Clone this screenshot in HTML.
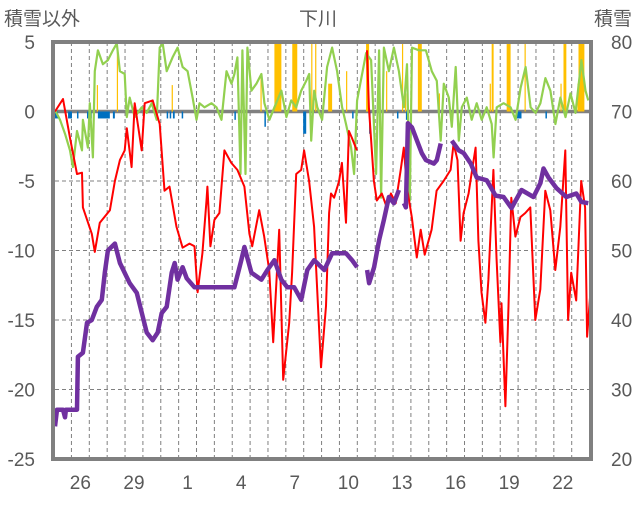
<!DOCTYPE html>
<html><head><meta charset="utf-8">
<style>
html,body{margin:0;padding:0;background:#fff;}
body{width:636px;height:501px;overflow:hidden;font-family:"Liberation Sans","Noto Sans CJK JP",sans-serif;}
svg text{font-family:"Liberation Sans","Noto Sans CJK JP",sans-serif;fill:#595959;}
</style></head>
<body>
<svg id="chart" width="636" height="501" viewBox="0 0 636 501" xmlns="http://www.w3.org/2000/svg">
<text x="4" y="25" font-size="19">積雪以外</text>
<text x="318" y="25" font-size="19" text-anchor="middle">下川</text>
<text x="632" y="25" font-size="19" text-anchor="end">積雪</text>
<g id="grid"></g>
<g id="bars"></g>
<g id="lines"></g>
<g id="axes"></g>
</svg>
<script>
// time in days since chart start
const dayLabels = ["26","29","1","4","7","10","13","16","19","22"];
const dayLabelIdx = [0,3,6,9,12,15,18,21,24,27];
const leftTicks = [5,0,-5,-10,-15,-20,-25];
const rightTicks = [80,70,60,50,40,30,20];

const redT = [0,0.45,0.84,1.23,1.51,1.56,2.06,2.23,2.51,3.07,3.35,3.63,3.90,4.02,4.29,4.46,4.85,5.02,5.47,5.86,6.13,6.41,6.80,7.14,7.53,7.81,7.98,8.25,8.48,8.53,8.70,8.92,9.20,9.48,9.87,10.21,10.60,10.88,11.04,11.43,11.71,11.99,12.21,12.55,12.77,13.11,13.27,13.50,13.78,13.94,14.22,14.50,14.89,15.17,15.34,15.45,15.62,15.90,16.06,16.29,16.45,16.62,16.90,null,17.46,17.57,17.85,18.01,18.29,18.57,18.80,19.07,19.35,19.52,19.69,19.97,20.25,20.47,20.69,21.08,21.36,21.75,22.14,22.31,22.53,22.70,22.87,23.15,23.31,23.54,23.70,23.87,24.09,24.26,24.54,24.71,24.93,24.99,25.21,25.38,25.54,25.77,26.05,26.32,26.60,26.88,27.16,27.44,27.72,28.00,28.28,28.56,28.72,28.89,29.17,29.45,29.67,29.78,29.95];
const redV = [0,0.9,-1.9,-4.5,-4.4,-6.9,-8.8,-10.1,-8,-7.1,-5,-3.5,-2.8,-1.2,-4,0.6,-2.8,0.6,0.8,-0.9,-5.7,-5.4,-8.3,-9.8,-9.5,-9.7,-13,-10.2,-6.4,-5.4,-9.7,-7.8,-7.3,-2.8,-3.7,-4.2,-5.4,-8.8,-9.7,-7.1,-9,-11.4,-16.6,-8.5,-19.3,-15.2,-11.6,-4.5,-4.2,-2.8,-5,-8.3,-18.4,-14,-7.3,-5.9,-6.2,-5,-3.7,-8,-1.4,-1.9,-2.8,null,4.4,0.3,-5,-6.4,-5.9,-6.9,-5.9,-6.6,-4.2,-2.6,-5.4,-7.6,-10.5,-8.5,-10.3,-8.5,-5.7,-5,-4.2,-2.3,-3.5,-9.3,-7.3,-5.9,-4.5,-2.6,-9.3,-13,-15.2,-12.1,-4.2,-10.5,-16.6,-13.8,-21.2,-14,-6.2,-9,-7.6,-7.3,-6.9,-15,-12.8,-5.7,-7.1,-11.4,-8.3,-2.8,-15,-11.6,-13.6,-5,-6.9,-16.2,-13.3];

const greenT = [0,0.28,0.56,0.84,1.0,1.23,1.51,1.56,1.84,1.95,2.12,2.23,2.4,2.68,2.96,3.24,3.46,3.63,3.9,4.02,4.18,4.46,4.85,5.13,5.41,5.69,5.86,6.03,6.25,6.58,6.86,7.14,7.42,7.7,7.92,8.09,8.37,8.76,9.04,9.32,9.6,9.88,10.04,10.21,10.38,10.49,10.66,10.77,10.99,11.27,11.55,11.72,12.0,12.28,12.67,12.95,13.22,13.5,13.78,14.06,14.23,14.34,14.51,14.68,14.95,15.23,15.51,15.79,16.07,16.29,16.57,16.74,16.91,17.41,17.69,17.97,18.14,18.25,18.41,18.69,18.97,19.25,19.53,19.7,19.86,19.98,20.37,20.76,21.09,21.37,21.59,21.76,22.04,22.21,22.43,22.6,22.77,23.05,23.32,23.6,23.88,24.16,24.44,24.55,24.72,25.11,25.5,25.78,26.06,26.34,26.62,26.9,27.17,27.45,27.73,28.01,28.29,28.57,28.85,29.13,29.46,29.69,29.85];
const greenV = [0.1,-0.6,-1.6,-2.8,-4,-1.4,-2.8,-0.6,-2.6,0.6,-3.3,2.9,4.4,3.4,3.7,4.4,4.9,2.9,2.7,-0.4,1,-0.4,0.3,-0.1,0.6,-0.6,4.6,4.9,2.9,3.9,4.6,3.2,2.9,1.0,-0.6,0.6,0.3,0.6,0.3,-0.6,2.9,2,2.7,3.9,-4.5,4.4,-4.5,4.6,1.5,2,2.7,0.6,-0.6,0.3,1.5,-0.4,0.8,0.3,1.5,2.2,2.7,-2.1,1.5,0.3,-0.6,3.2,4.6,2.9,0.3,-0.9,-2.6,-4.5,0.8,4.2,3.7,-4.5,4.4,-6.2,4.6,2.9,4.6,2.9,0.3,3.4,-6.4,4.6,4.4,4.4,2.9,2.2,-2.1,2,1,-1.1,3.2,-2.1,0.3,1,-0.6,0.6,-0.6,0.3,-0.9,-3.3,0.3,0.6,0.3,-0.6,1.7,3.2,0.3,-0.1,0.6,2.4,1.5,-0.9,1,-0.4,1.3,-0.1,3.7,1.5,0.8];

const snowT = [0,0.11,0.45,0.56,0.61,1.23,1.28,1.56,1.79,2.06,2.34,2.62,2.79,2.96,3.35,3.63,4.18,4.58,5.13,5.47,5.75,5.97,6.25,6.53,6.7,6.86,7.14,7.37,7.81,9.04,10.04,10.43,10.6,10.99,11.55,11.89,12.28,12.67,13.0,13.39,13.78,14.12,14.51,15.07,15.51,16.29,16.63,16.91,null,17.47,17.58,17.86,18.14,18.41,18.69,18.97,19.25,null,19.53,19.64,19.75,19.98,20.26,20.53,20.76,21.2,21.37,21.59,null,22.21,22.6,22.88,23.27,23.6,24.16,24.66,25.11,25.55,26.11,26.78,27.17,27.34,27.62,28.06,28.62,29.18,29.46,29.85];
const snowV = [24.7,27.1,27.1,26,27.1,27.1,34.7,35.3,39.6,40,41.9,42.9,46.8,50,51,48.2,45.3,43.9,38.2,37.1,38.2,41,41.9,46.8,48.2,45.8,47.6,46,44.7,44.7,44.7,48.6,50.5,46.8,45.8,47.2,48.6,45.8,44.7,44.7,42.9,47.2,48.6,47.2,49.6,49.6,48.6,47.6,null,47.2,45.3,47.6,51.5,54.4,57.7,56.8,58.7,null,56.8,56.2,68.3,67.7,65.8,64,63,62.5,63,65.4,null,65.8,64.4,64,62.5,60.5,60.1,57.9,57.7,56.1,58.7,57.7,59.7,61.8,60.5,59,57.7,58.2,57,56.8];

const snowfallStart = [2.34,3.46,6.53,11.5,12.28,13.28,14.34,14.56,15.29,15.34,16.29,17.41,18.53,19.42,19.59,20.31,21.48,24.33,24.44,25.28,26.28,28.29,28.46,29.24,29.3];
const snowfallEnd   = [2.38,3.52,6.57,11.54,12.67,13.56,14.39,14.61,15.33,15.51,16.34,17.58,18.57,19.47,19.63,20.53,21.52,24.37,24.55,25.5,26.33,28.33,28.62,29.28,29.63];
const snowfallV     = [1.9,4.3,1.9,2.7,5,5,5,5,2,2,2.9,5,2.9,5,1.3,5,1.3,2,5,5,5,2,5,2,5];

const blueStart = [0,0.73,1.23,1.79,2.4,3.24,6.25,6.42,6.6,7.09,10.04,11.72,13.89,16.63,17.58,18.3,19.14,19.64,25.83,27.45];
const blueEnd   = [0.17,0.95,1.28,2.06,3.07,3.35,6.3,6.47,6.7,7.14,10.08,11.76,14.06,16.67,17.62,18.34,19.18,19.81,26.11,27.49];
const blueV     = [-0.5,-0.5,-0.5,-0.5,-0.5,-0.5,-0.5,-0.5,-0.5,-0.5,-0.6,-1.1,-1.6,-0.5,-1.6,-0.5,-0.5,-0.6,-0.5,-0.5];

const X0=55, X1=591, Y5=42, Y25=459, DAYS=30.0, FIRST=0.92;
function xs(t){return X0+(t/DAYS)*(X1-X0);}
function yl(v){return Y5+(5-v)/30*(Y25-Y5);}
function yr(v){return Y5+(80-v)/60*(Y25-Y5);}
const NS="http://www.w3.org/2000/svg";
function mk(tag,attrs,parent){const e=document.createElementNS(NS,tag);for(const k in attrs)e.setAttribute(k,attrs[k]);parent.appendChild(e);return e;}
const grid=document.getElementById('grid'), bars=document.getElementById('bars'), lines=document.getElementById('lines'), axes=document.getElementById('axes');

for(let k=0;k<29;k++){
  const x=xs(FIRST+k);
  const g=mk('line',{x1:x,x2:x,y1:Y5,y2:Y25,stroke:'#808080','stroke-width':1,'stroke-dasharray':'4,3'},grid);
  
  
}
leftTicks.forEach(v=>{
  if(v===5||v===-25||v===0)return;
  const g=mk('line',{x1:X0,x2:X1,y1:yl(v),y2:yl(v),stroke:'#808080','stroke-width':1,'stroke-dasharray':'4,3'},grid);
  
  
});

snowfallV.forEach((v,i)=>{
  const x=xs(snowfallStart[i]), w=Math.max(1.2,xs(snowfallEnd[i])-x);
  const r=mk('rect',{x:x,y:yl(v),width:w,height:yl(0)-yl(v),fill:'#ffc000'},bars);
  
  
});
blueV.forEach((v,i)=>{
  const x=xs(blueStart[i]), w=Math.max(1.5,xs(blueEnd[i])-x);
  const r=mk('rect',{x:x,y:yl(0),width:w,height:yl(v)-yl(0),fill:'#0070c0'},bars);
  
  
});

// zero line
const z=mk('line',{x1:X0,x2:X1,y1:yl(0),y2:yl(0),stroke:'#808080','stroke-width':3.5},grid);



function pathOf(T,V,yf){let d='',pen=false;for(let i=0;i<T.length;i++){if(T[i]===null||V[i]===null){pen=false;continue;}d+=(pen?'L':'M')+xs(T[i]).toFixed(1)+','+yf(V[i]).toFixed(1);pen=true;}return d;}
const pg=mk('path',{d:pathOf(greenT,greenV,yl),fill:'none',stroke:'#92d050','stroke-width':2.2,'stroke-linejoin':'round'},lines);


const pr=mk('path',{d:pathOf(redT,redV,yl),fill:'none',stroke:'#ff0000','stroke-width':2,'stroke-linejoin':'round'},lines);


const pp=mk('path',{d:pathOf(snowT,snowV,yr),fill:'none',stroke:'#7030a0','stroke-width':4.5,'stroke-linejoin':'round'},lines);



const fr=mk('rect',{x:X0-2,y:Y5,width:X1-X0+2,height:Y25-Y5,fill:'none',stroke:'#808080','stroke-width':4},axes);



leftTicks.forEach(v=>{
  const t=mk('text',{x:35,y:yl(v)+7,'font-size':19,'text-anchor':'end'},axes);
  t.textContent=String(v);
  
  
});
rightTicks.forEach(v=>{
  const t=mk('text',{x:611,y:yr(v)+7,'font-size':19},axes);
  t.textContent=String(v);
  
  
});
dayLabels.forEach((s,i)=>{
  const t=mk('text',{x:xs(FIRST+dayLabelIdx[i]+0.5),y:489,'font-size':19,'text-anchor':'middle'},axes);
  t.textContent=s;
  
  
});
</script>
</body></html>
